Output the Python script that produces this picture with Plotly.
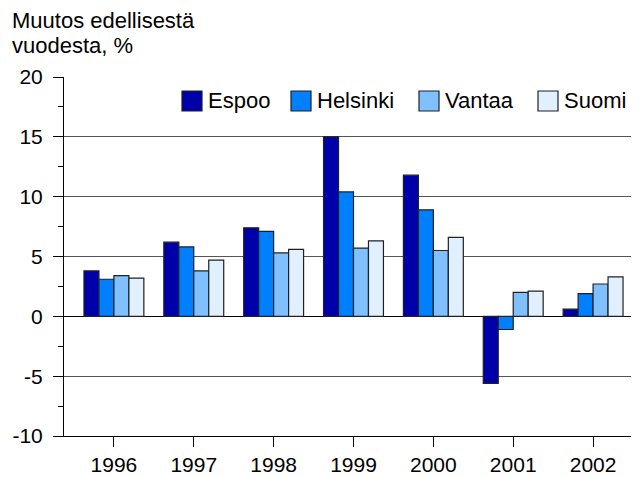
import plotly.graph_objects as go

years = [1996, 1997, 1998, 1999, 2000, 2001, 2002]
series_names = ["Espoo", "Helsinki", "Vantaa", "Suomi"]
espoo = [3.8, 6.2, 7.4, 15.0, 11.8, -5.6, 0.6]
helsinki = [3.1, 5.8, 7.1, 10.4, 8.9, -1.1, 1.9]
vantaa = [3.4, 3.8, 5.3, 5.7, 5.5, 2.0, 2.7]
suomi = [3.2, 4.7, 5.6, 6.3, 6.6, 2.1, 3.3]
colors = ["#0000AA", "#0080FF", "#80C0FF", "#E0F0FF"]
y_tick_vals = [-10, -5, 0, 5, 10, 15, 20]
y_tick_text = ["-10", "-5", "0", "5", "10", "15", "20"]
title_lines = ["Muutos edellisestä", "vuodesta, %"]

FONT = "Liberation Sans, Arial, sans-serif"
FS = 22

# page has an 8px body margin; compensate so the plot area sits at
# x 64..639, y 77..436 in the 639x477 window
OFF = 8
W, H = 639 - OFF, 477 - OFF
ML, MT, MB, MR = 64 - OFF, 77 - OFF, 41, 0
PW = W - ML - MR
PH = H - MT - MB


def px_x(x):  # page pixel -> paper x
    return (x - 64) / PW


def px_y(y):  # page pixel -> paper y
    return (436 - y) / PH


fig = go.Figure()
for name, vals, col in zip(series_names, [espoo, helsinki, vantaa, suomi], colors):
    fig.add_trace(go.Bar(
        x=years, y=vals, name=name, marker_color=col,
        marker_line=dict(color="#202020", width=1.2), showlegend=False,
    ))

# manual legend (swatch 20x20 then label)
legend_swatch_left = [182, 291, 419, 538]
shapes = []
annotations = []
for name, col, x0 in zip(series_names, colors, legend_swatch_left):
    shapes.append(dict(type="rect", xref="paper", yref="paper",
                       x0=px_x(x0), x1=px_x(x0 + 20), y0=px_y(111), y1=px_y(91),
                       fillcolor=col, line=dict(color="#202020", width=1.2)))
    annotations.append(dict(text=name, xref="paper", yref="paper",
                            x=px_x(x0 + 24), y=px_y(100), xanchor="left", yanchor="middle",
                            showarrow=False, font=dict(size=FS)))

for line, yc in zip(title_lines, [20.5, 45]):
    annotations.append(dict(text=line, xref="paper", yref="paper",
                            x=px_x(10), y=px_y(yc), xanchor="left", yanchor="middle",
                            showarrow=False, font=dict(size=FS)))

fig.update_layout(
    width=W, height=H,
    margin=dict(l=ML, r=MR, t=MT, b=MB, pad=0, autoexpand=False),
    paper_bgcolor="white", plot_bgcolor="white",
    barmode="group", bargap=0.25, bargroupgap=0,
    font=dict(family=FONT, size=FS, color="black"),
    showlegend=False,
    shapes=shapes,
    annotations=annotations,
)
fig.update_xaxes(
    automargin=False,
    range=[1995.375, 2002.575], tickmode="array", tickvals=years,
    ticktext=[str(y) for y in years],
    showline=True, linecolor="black", linewidth=1,
    ticks="outside", ticklen=10, tickcolor="black", showgrid=False, zeroline=False,
    tickfont=dict(size=21), ticklabelstandoff=0,
)
fig.update_yaxes(
    automargin=False,
    range=[-10, 20], tickmode="array", tickvals=y_tick_vals, ticktext=y_tick_text,
    showline=True, linecolor="black", linewidth=1,
    ticks="outside", ticklen=10, tickcolor="black",
    minor=dict(dtick=2.5, ticks="outside", ticklen=5, tickcolor="black", showgrid=False),
    showgrid=True, gridcolor="#555555", gridwidth=1,
    zeroline=True, zerolinecolor="black", zerolinewidth=1,
    tickfont=dict(size=21), ticklabelstandoff=6,
)

fig.write_html("out.html")
